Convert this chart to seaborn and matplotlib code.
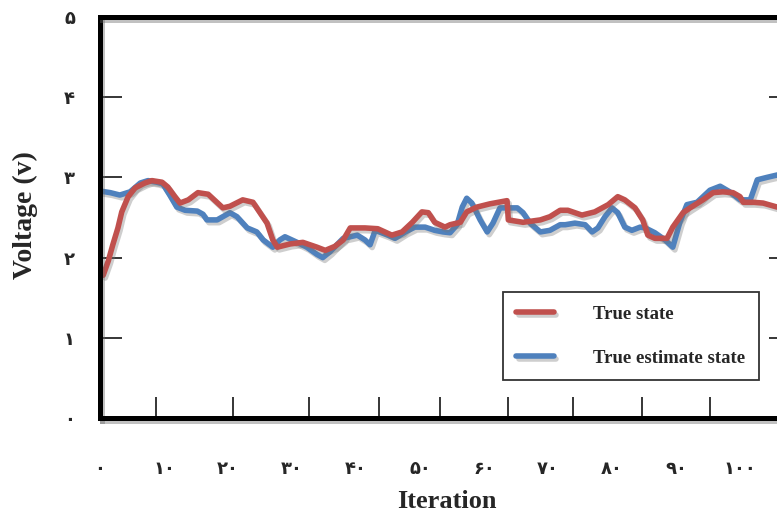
import matplotlib
matplotlib.use("Agg")
import matplotlib.pyplot as plt
import matplotlib.patheffects as pe
import numpy as np
import pandas as pd
import seaborn as sns

# Iteration positions and voltages of the two traces
true_x = [0.5, 1.3, 2.0, 2.8, 3.4, 4.4, 5.5, 7.0, 8.1, 9.7, 10.6, 11.7, 12.5, 13.8,
          15.3, 16.9, 19.2, 20.3, 22.3, 23.9, 25.0, 26.1, 27.0, 27.7, 29.7, 31.7,
          33.9, 35.2, 36.7, 38.0, 39.1, 41.4, 43.4, 45.6, 47.2, 48.8, 50.3, 51.3,
          52.3, 53.9, 54.7, 56.3, 57.3, 58.9, 60.9, 63.6, 63.8, 66.1, 68.8, 70.3,
          71.9, 73.1, 75.3, 77.3, 79.4, 80.9, 82.0, 83.6, 84.8, 85.6, 86.7, 88.6,
          89.5, 91.1, 92.2, 94.2, 95.8, 97.3, 98.9, 100.0, 100.5, 102.0, 103.6, 105.8]
true_v = [1.78, 1.96, 2.16, 2.37, 2.57, 2.76, 2.87, 2.93, 2.96, 2.94, 2.88, 2.76,
          2.68, 2.72, 2.81, 2.79, 2.62, 2.64, 2.72, 2.69, 2.56, 2.43, 2.22, 2.13,
          2.17, 2.19, 2.13, 2.09, 2.14, 2.22, 2.37, 2.37, 2.36, 2.28, 2.32, 2.44,
          2.57, 2.56, 2.44, 2.38, 2.41, 2.44, 2.57, 2.63, 2.67, 2.71, 2.47, 2.44,
          2.47, 2.51, 2.59, 2.59, 2.53, 2.57, 2.66, 2.76, 2.72, 2.62, 2.47, 2.28,
          2.24, 2.24, 2.38, 2.56, 2.62, 2.72, 2.81, 2.82, 2.81, 2.76, 2.69, 2.69,
          2.68, 2.63]

est_x = [0.0, 1.6, 3.1, 4.7, 6.3, 7.5, 8.9, 9.8, 10.9, 12.0, 13.3, 15.2, 16.1,
         16.7, 18.3, 20.3, 21.4, 23.0, 24.5, 25.5, 27.0, 28.1, 28.9, 30.8, 32.3,
         33.9, 34.8, 35.9, 38.0, 40.2, 41.4, 42.2, 43.0, 45.0, 46.1, 47.7, 49.2,
         50.8, 52.3, 53.6, 54.7, 55.8, 56.6, 57.3, 58.1, 59.4, 60.5, 61.4, 62.5,
         65.2, 66.1, 67.2, 68.8, 70.3, 71.9, 72.7, 74.2, 75.8, 76.9, 77.8, 78.9,
         80.0, 80.9, 82.0, 83.1, 84.4, 85.2, 86.7, 88.3, 89.5, 90.6, 91.7, 93.3,
         95.3, 96.9, 98.4, 100.0, 101.6, 102.0, 102.7, 104.2, 105.8]
est_v = [2.83, 2.81, 2.78, 2.82, 2.93, 2.96, 2.94, 2.92, 2.78, 2.63, 2.59, 2.58,
         2.54, 2.47, 2.47, 2.56, 2.51, 2.37, 2.32, 2.22, 2.13, 2.22, 2.26, 2.19,
         2.13, 2.04, 2.00, 2.07, 2.24, 2.28, 2.22, 2.16, 2.34, 2.28, 2.24, 2.32,
         2.38, 2.38, 2.34, 2.32, 2.31, 2.41, 2.63, 2.74, 2.68, 2.47, 2.32, 2.43,
         2.62, 2.62, 2.56, 2.43, 2.32, 2.34, 2.41, 2.41, 2.43, 2.41, 2.32, 2.37,
         2.51, 2.62, 2.56, 2.38, 2.34, 2.38, 2.37, 2.31, 2.22, 2.13, 2.44, 2.66,
         2.69, 2.84, 2.89, 2.82, 2.72, 2.72, 2.81, 2.97, 3.00, 3.03]

series_names = ["True state", "True estimate state"]
series_colors = ["#C0504D", "#4F81BD"]

x_ticks = [0, 10, 20, 30, 40, 50, 60, 70, 80, 90, 100]
x_tick_labels = ["۰", "۱۰", "۲۰", "۳۰", "۴۰", "۵۰", "۶۰", "۷۰", "۸۰", "۹۰", "۱۰۰"]
x_marks = [8.75, 20.8, 32.7, 43.6, 53.1, 63.75, 73.9, 84.7, 95.3]
y_ticks = [0, 1, 2, 3, 4, 5]
y_tick_labels = ["۰", "۱", "۲", "۳", "۴", "۵"]

df = pd.concat([
    pd.DataFrame({"Iteration": true_x, "Voltage": true_v, "series": series_names[0]}),
    pd.DataFrame({"Iteration": est_x, "Voltage": est_v, "series": series_names[1]}),
], ignore_index=True)

sns.set_theme(style="white")
plt.rcParams["font.family"] = ["Liberation Serif", "DejaVu Sans"]

fig = plt.figure(figsize=(7.77, 5.14), dpi=100)
ax = fig.add_axes([100 / 777, 96 / 514, 691.2 / 777, 401 / 514])

shadow = [pe.SimpleLineShadow(offset=(1.5, -2.0), shadow_color="0.45", alpha=0.35),
          pe.Normal()]

sns.lineplot(data=df, x="Iteration", y="Voltage", hue="series",
             hue_order=series_names, palette=series_colors, sort=False,
             estimator=None, linewidth=4.0, ax=ax, legend=False)
lines = ax.get_lines()
for line in lines:
    line.set_solid_joinstyle("round")
    line.set_solid_capstyle("round")
    line.set_path_effects(shadow)
# the true state trace sits above the estimate
lines[0].set_zorder(3)
lines[1].set_zorder(2.5)

ax.set_xlim(0, 108)
ax.set_ylim(0, 5)

# Frame
for side, spine in ax.spines.items():
    spine.set_visible(True)
    spine.set_color("black")
    spine.set_linewidth(3.6)
    spine.set_zorder(4)
    spine.set_path_effects([pe.SimpleLineShadow(offset=(1.5, -2.0), shadow_color="0.4", alpha=0.4),
                            pe.Normal()])

# Ticks
tick_font = dict(family=["DejaVu Sans"], weight="bold", size=13)
ax.set_xticks(x_ticks)
ax.set_xticklabels(x_tick_labels, **tick_font)
ax.set_xticks(x_marks, minor=True)
ax.tick_params(axis="x", which="major", length=0, pad=30)
ax.tick_params(axis="x", which="minor", bottom=True, direction="in",
               length=15, width=1.1, color="black")
ax.set_yticks(y_ticks)
ax.set_yticklabels(y_tick_labels, **tick_font)
ax.tick_params(axis="y", which="major", left=True, right=True, direction="in",
               length=16, width=1.1, color="black", pad=18)

ax.set_xlabel("Iteration", fontsize=19, fontweight="bold",
              family=["Liberation Serif"])
ax.set_ylabel("Voltage (v)", fontsize=20, fontweight="bold",
              family=["Liberation Serif"])
ax.xaxis.set_label_coords(0.502, -0.18)
ax.yaxis.set_label_coords(-0.09, 0.505)
ax.grid(False)

# Legend
handles = [plt.Line2D([], [], color=c, linewidth=4.0, path_effects=shadow)
           for c in series_colors]
leg = ax.legend(handles, series_names, loc="upper left",
                bbox_to_anchor=(403 / 691.2, (418 - 292) / 401),
                prop=dict(family="Liberation Serif", weight="bold", size=13.5),
                frameon=True, fancybox=False, edgecolor="black",
                handlelength=2.0, handletextpad=2.1, labelspacing=1.45,
                borderpad=0.72, borderaxespad=0)
leg.get_frame().set_linewidth(1.3)
leg.set_zorder(5)

fig.savefig("out.png", dpi=100)
